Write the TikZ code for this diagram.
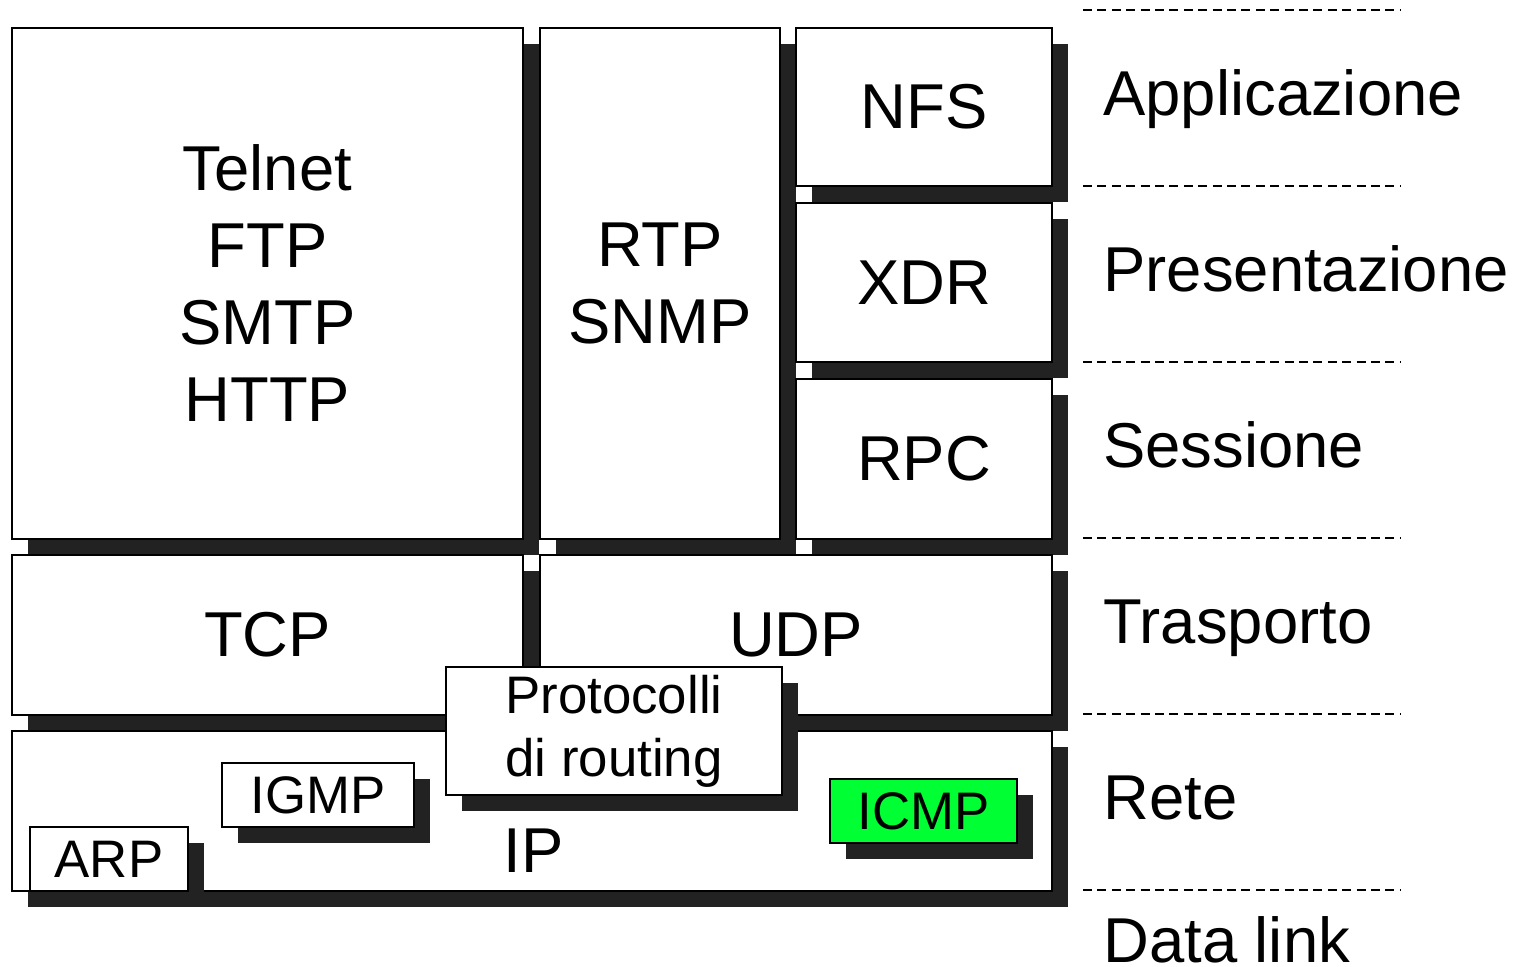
\documentclass[tikz,border=0pt]{standalone}
\usepackage{fontspec}
\setmainfont{Liberation Sans}
\usetikzlibrary{shadows}
\definecolor{shadowgray}{HTML}{222222}
\definecolor{icmpgreen}{HTML}{00FF33}
\newcommand{\bigf}{\fontsize{31.7}{38.5}\selectfont}
\newcommand{\smallf}{\fontsize{26.4}{31.5}\selectfont}

\begin{document}
\begin{tikzpicture}[x=0.5pt,y=-0.5pt,
		lay/.style 2 args={draw=black,line width=1pt,fill=white,anchor=north west,inner sep=0pt,
				minimum width=#1*0.5pt,minimum height=#2*0.5pt,align=center,font=\bigf,
				general shadow={shadow xshift=8pt,shadow yshift=-8pt,fill=shadowgray}},
		sub/.style 2 args={lay={#1}{#2},font=\smallf},
		sep/.style={draw=black,line width=1pt,dash pattern=on 4.5pt off 2.7pt},
		lbl/.style={anchor=base west,inner sep=0pt,font=\bigf}
		]
		\useasboundingbox (0,0) rectangle (1516,966);
		% upper layers
		\node[lay={511}{511}] (telnet) at (11,27) {Telnet\\FTP\\SMTP\\HTTP};
		\node[lay={240}{511}] (rtp) at (539,27) {RTP\\SNMP};
		\node[lay={256}{158}] (nfs) at (795,27) {NFS};
		\node[lay={256}{159}] (xdr) at (795,202) {XDR};
		\node[lay={256}{160}] (rpc) at (795,378) {RPC};
		% transport and network
		\node[lay={511}{160}] (tcp) at (11,554) {TCP};
		\node[lay={512}{160}] (udp) at (539,554) {UDP};
		\node[lay={1040}{160}] (ip) at (11,730) {};
		\node[lbl] (iptxt) at (503,872) {IP};
		\node[sub={336}{128},align=left] (routing) at (445,666) {Protocolli\\di routing};
		\node[sub={192}{64}] (igmp) at (221,762) {IGMP};
		\node[sub={158}{64}] (arp) at (29,826) {ARP};
		\node[sub={187}{64},fill=icmpgreen] (icmp) at (829,778) {ICMP};
		% OSI layers on the right
		\foreach \y in {10,186,362,538,714,890}
			\draw[sep] (1083,\y) -- (1400,\y);
		\foreach \n/\t/\y in {appl/Applicazione/115,pres/Presentazione/291,sess/Sessione/467,
				tras/Trasporto/643,rete/Rete/819,dlink/Data link/962}
			\node[lbl] (\n) at (1103,\y) {\t};
	\end{tikzpicture}
\end{document}
